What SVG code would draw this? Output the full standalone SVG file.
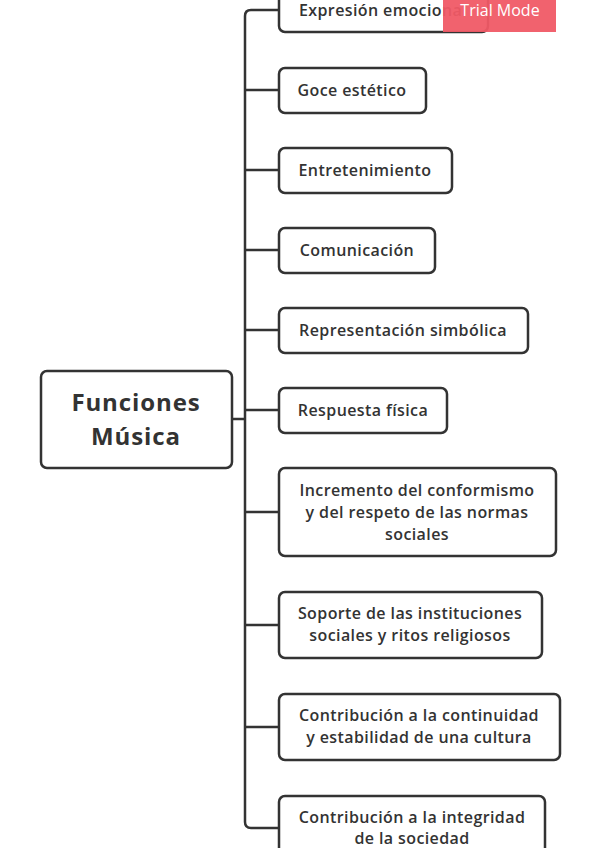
<svg xmlns="http://www.w3.org/2000/svg" width="599" height="848" viewBox="0 0 599 848">
<style>
.box{fill:#fff;stroke:#333;stroke-width:2.5}
.t{font-family:"Open Sans","Noto Sans",sans-serif;font-size:16px;font-weight:600;letter-spacing:0.4px;fill:#333;text-anchor:middle}
.root{font-family:"Open Sans","Noto Sans",sans-serif;font-size:24px;font-weight:700;letter-spacing:0.9px;fill:#333;text-anchor:middle}
.c{fill:none;stroke:#333;stroke-width:2.5}
</style>
<rect width="599" height="848" fill="#fff"/>
<g id="connectors">
<path class="c" d="M232 419 H245"/>
<path class="c" d="M279 10 H251 Q245 10 245 16 V822 Q245 828 251 828 H279"/>
<path class="c" d="M245 90 H279 M245 170 H279 M245 250 H279 M245 330 H279 M245 410 H279 M245 512 H279 M245 625 H279 M245 727 H279"/>
</g>
<g id="root"><rect class="box" x="41" y="371" width="191" height="97" rx="6"/>
<text class="root" x="136" y="411">Funciones</text><text class="root" x="136" y="445">Música</text></g>
<g id="n1"><rect class="box" x="279" y="-14" width="209" height="46" rx="6"/><text class="t" x="383" y="16">Expresión emocional</text></g>
<g id="n2"><rect class="box" x="279" y="68" width="147" height="45" rx="6"/><text class="t" x="352" y="96">Goce estético</text></g>
<g id="n3"><rect class="box" x="279" y="148" width="173" height="45" rx="6"/><text class="t" x="365" y="176">Entretenimiento</text></g>
<g id="n4"><rect class="box" x="279" y="228" width="156" height="45" rx="6"/><text class="t" x="357" y="256">Comunicación</text></g>
<g id="n5"><rect class="box" x="279" y="308" width="249" height="45" rx="6"/><text class="t" x="403" y="336">Representación simbólica</text></g>
<g id="n6"><rect class="box" x="279" y="388" width="168" height="45" rx="6"/><text class="t" x="363" y="416">Respuesta física</text></g>
<g id="n7"><rect class="box" x="279" y="468" width="277" height="88" rx="6"/><text class="t" x="417" y="496">Incremento del conformismo</text><text class="t" x="417" y="518">y del respeto de las normas</text><text class="t" x="417" y="540">sociales</text></g>
<g id="n8"><rect class="box" x="279" y="592" width="263" height="66" rx="6"/><text class="t" x="410" y="619">Soporte de las instituciones</text><text class="t" x="410" y="641">sociales y ritos religiosos</text></g>
<g id="n9"><rect class="box" x="279" y="694" width="281" height="66" rx="6"/><text class="t" x="419" y="721">Contribución a la continuidad</text><text class="t" x="419" y="743">y estabilidad de una cultura</text></g>
<g id="n10"><rect class="box" x="279" y="796" width="266" height="66" rx="6"/><text class="t" x="412" y="823">Contribución a la integridad</text><text class="t" x="412" y="844">de la sociedad</text></g>
<g id="trial"><rect x="443" y="0" width="113" height="32" fill="#F05A66" opacity="0.95"/><text x="500" y="16" font-family="Open Sans, sans-serif" font-size="16" fill="#fff" text-anchor="middle">Trial Mode</text></g>
</svg>
